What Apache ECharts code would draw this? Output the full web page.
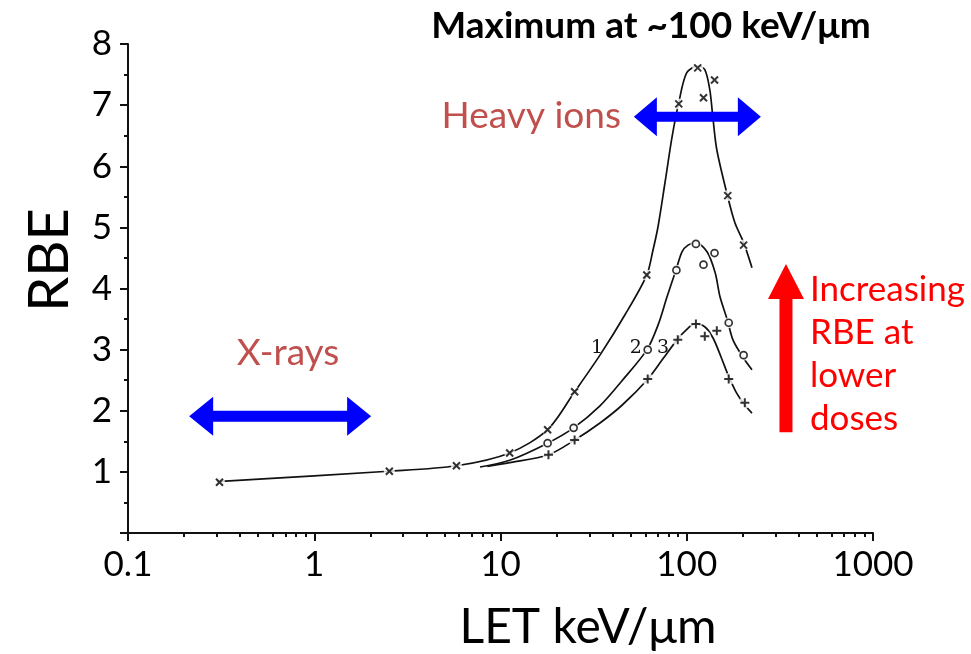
<!DOCTYPE html>
<html>
<head>
<meta charset="utf-8">
<script src="https://cdn.jsdelivr.net/npm/echarts@6/dist/echarts.min.js"></script>
<style>
  html, body { margin: 0; padding: 0; background: #ffffff; }
  #chart { width: 971px; height: 654px; }
</style>
</head>
<body>
<div id="chart"></div>
<script>
// Axis ticks
const xTicks = [0.1, 1, 10, 100, 1000];
const xMinorTicks = [0.2, 0.3, 0.4, 0.5, 0.6, 0.7, 0.8, 0.9,
                     2, 3, 4, 5, 6, 7, 8, 9,
                     20, 30, 40, 50, 60, 70, 80, 90,
                     200, 300, 400, 500, 600, 700, 800, 900];
const yTicks = [1, 2, 3, 4, 5, 6, 7, 8];

// Curve 1 (×): drawn line and measured points  [LET keV/µm, RBE]
const curve1Line = [[0.3, 0.84], [2.5, 1.01], [5.8, 1.10], [11.2, 1.31], [17.9, 1.69], [25, 2.31],
                    [34.2, 2.91], [46.6, 3.57], [61, 4.22], [65.9, 4.63], [70.1, 5.01], [76.4, 5.73],
                    [83.4, 6.48], [90.6, 7.04], [100, 7.53], [114.5, 7.64], [125, 7.58], [133, 7.25],
                    [138, 6.81], [145, 6.27], [166, 5.50], [181.6, 5.07], [202, 4.75], [224, 4.34]];
const curve1Pts = [[0.31, 0.83], [2.53, 1.01], [5.8, 1.10], [11.2, 1.31], [17.9, 1.69], [25, 2.31],
                   [61, 4.22], [90.6, 7.02], [114.5, 7.61], [123, 7.12], [141, 7.41], [166, 5.52], [202, 4.71]];

// Curve 2 (○)
const curve2Line = [[7.76, 1.08], [11.2, 1.19], [17.9, 1.47], [24.7, 1.72], [34.2, 2.08], [44.9, 2.49],
                    [61.2, 3.0], [70.1, 3.40], [78.3, 3.86], [87.5, 4.30], [94.3, 4.60], [101.6, 4.71],
                    [112, 4.75], [128.5, 4.60], [142, 4.26], [151, 3.86], [165, 3.49], [177, 3.16],
                    [200, 2.88], [224, 2.67]];
const curve2Pts = [[17.9, 1.47], [24.7, 1.72], [61.7, 3.0], [88, 4.30], [112, 4.73],
                   [123, 4.39], [141, 4.58], [168, 3.44], [202, 2.91]];

// Curve 3 (+)
const curve3Line = [[8.5, 1.09], [11.2, 1.15], [18.1, 1.28], [25, 1.52], [34.2, 1.80], [44.9, 2.09],
                    [61.9, 2.52], [74.5, 2.85], [88.7, 3.16], [99.1, 3.32], [110.7, 3.42], [125.3, 3.37],
                    [138.4, 3.19], [152.8, 2.88], [166.5, 2.59], [183.7, 2.31], [203, 2.11], [224, 1.96]];
const curve3Pts = [[18.1, 1.28], [25, 1.52], [61.7, 2.52], [89.5, 3.16], [112, 3.42],
                   [125, 3.22], [145, 3.31], [168, 2.52], [205, 2.13]];

// Curve number labels [x, y, text]
const curveLabels = [[33, 3.03, '1'], [53.3, 3.03, '2'], [74.5, 3.03, '3']];

// Annotation arrows in data units
const xrayArrow = { from: 0.213, to: 2.02, y: 1.91 };
const ionArrow = { from: 52, to: 250, y: 6.81 };
const doseArrow = { x: 341, from: 1.65, to: 4.40 };

const FONT = 'Lato, "Open Sans", sans-serif';
const INK = '#111111';

const chart = echarts.init(document.getElementById('chart'), null, { renderer: 'canvas' });

const crossSym = 'path://M0,0L10,10M10,0L0,10';
const plusSym = 'path://M5,0L5,10M0,5L10,5';

function lineSeries(data) {
  return {
    type: 'line', data: data, smooth: 0.3, symbol: 'none', silent: true,
    lineStyle: { color: INK, width: 1.7 }, z: 2
  };
}

// White halo under each marker so the curve breaks around it
function haloSeries(data, size) {
  return {
    type: 'scatter', data: data, symbol: 'circle', symbolSize: size, silent: true, z: 3,
    itemStyle: { color: '#ffffff', borderWidth: 0 }
  };
}

chart.setOption({
  animation: false,
  backgroundColor: '#ffffff',
  grid: { left: 128, right: 98, top: 44, bottom: 121 },
  xAxis: [
    {
      type: 'log', logBase: 10, min: xTicks[0], max: xTicks[xTicks.length - 1],
      axisLine: { show: true, lineStyle: { color: INK, width: 2 } },
      axisTick: { show: true, length: 8, lineStyle: { color: INK, width: 2 } },
      axisLabel: {
        show: true, margin: 14, color: '#000', fontSize: 35, fontFamily: FONT,
        customValues: xTicks,
        formatter: function (v) { return String(v); }
      },
      splitLine: { show: false }
    },
    {
      type: 'log', logBase: 10, min: xTicks[0], max: xTicks[xTicks.length - 1],
      position: 'bottom',
      axisLine: { show: false },
      axisTick: { show: true, length: 4, customValues: xMinorTicks, lineStyle: { color: INK, width: 2 } },
      axisLabel: { show: false },
      splitLine: { show: false }
    }
  ],
  yAxis: {
    type: 'value', min: 0, max: 8, interval: 1,
    axisLine: { show: true, lineStyle: { color: INK, width: 2 } },
    axisTick: { show: true, length: 8, lineStyle: { color: INK, width: 2 } },
    minorTick: { show: true, splitNumber: 2, length: 4, lineStyle: { color: INK, width: 2 } },
    axisLabel: {
      margin: 16, color: '#000', fontSize: 35, fontFamily: FONT, padding: [7, 0, 0, 0],
      formatter: function (v) { return yTicks.indexOf(v) >= 0 ? String(v) : ''; }
    },
    splitLine: { show: false }
  },
  series: [
    lineSeries(curve1Line),
    lineSeries(curve2Line),
    lineSeries(curve3Line),
    haloSeries(curve1Pts, 11),
    haloSeries(curve2Pts, 11),
    haloSeries(curve3Pts, 12),
    {
      type: 'scatter', data: curve1Pts, symbol: crossSym, symbolSize: 7, silent: true, z: 4,
      itemStyle: { color: 'none', borderColor: '#000', borderWidth: 2 }
    },
    {
      type: 'scatter', data: curve2Pts, symbol: 'circle', symbolSize: 7, silent: true, z: 4,
      itemStyle: { color: '#ffffff', borderColor: '#000', borderWidth: 1.7 }
    },
    {
      type: 'scatter', data: curve3Pts, symbol: plusSym, symbolSize: 9, silent: true, z: 4,
      itemStyle: { color: 'none', borderColor: '#000', borderWidth: 2 }
    }
  ]
});

function px(x, y) {
  return chart.convertToPixel({ xAxisIndex: 0, yAxisIndex: 0 }, [x, y]);
}

// Horizontal double-headed arrow polygon
function doubleArrow(x1, x2, y, headLen, headHalf, shaftHalf) {
  return [
    [x1, y], [x1 + headLen, y - headHalf], [x1 + headLen, y - shaftHalf],
    [x2 - headLen, y - shaftHalf], [x2 - headLen, y - headHalf], [x2, y],
    [x2 - headLen, y + headHalf], [x2 - headLen, y + shaftHalf],
    [x1 + headLen, y + shaftHalf], [x1 + headLen, y + headHalf]
  ];
}

// Vertical up arrow polygon
function upArrow(x, yBottom, yTip, headLen, headHalf, shaftHalf) {
  return [
    [x, yTip], [x + headHalf, yTip + headLen], [x + shaftHalf, yTip + headLen],
    [x + shaftHalf, yBottom], [x - shaftHalf, yBottom], [x - shaftHalf, yTip + headLen],
    [x - headHalf, yTip + headLen]
  ];
}

const xa1 = px(xrayArrow.from, xrayArrow.y), xa2 = px(xrayArrow.to, xrayArrow.y);
const ia1 = px(ionArrow.from, ionArrow.y), ia2 = px(ionArrow.to, ionArrow.y);
const da1 = px(doseArrow.x, doseArrow.from), da2 = px(doseArrow.x, doseArrow.to);

const graphics = [
  { type: 'polygon', shape: { points: doubleArrow(xa1[0], xa2[0], xa1[1], 24, 19.5, 5.5) }, style: { fill: '#0000ff' }, z: 10 },
  { type: 'polygon', shape: { points: doubleArrow(ia1[0], ia2[0], ia1[1], 23, 19.5, 5) }, style: { fill: '#0000ff' }, z: 10 },
  { type: 'polygon', shape: { points: upArrow(da1[0], da1[1], da2[1], 35, 18, 6.5) }, style: { fill: '#ff0000' }, z: 10 },
  { type: 'text', x: 651, y: 26, style: { text: 'Maximum at ~100 keV/\u03bcm', fill: '#000', font: 'bold 37px ' + FONT, textAlign: 'center', textVerticalAlign: 'middle' }, z: 10 },
  { type: 'text', x: 621, y: 116, style: { text: 'Heavy ions', fill: '#c0504d', font: '37px ' + FONT, textAlign: 'right', textVerticalAlign: 'middle' }, z: 10 },
  { type: 'text', x: 288, y: 353, style: { text: 'X-rays', fill: '#c0504d', font: '37px ' + FONT, textAlign: 'center', textVerticalAlign: 'middle' }, z: 10 },
  { type: 'text', x: 810, y: 268, style: { text: 'Increasing\nRBE at\nlower\ndoses', fill: '#ff0000', font: '35px ' + FONT, lineHeight: 43, textAlign: 'left', textVerticalAlign: 'top' }, z: 10 },
  { type: 'text', x: 588, y: 628, style: { text: 'LET keV/\u03bcm', fill: '#000', font: '48px ' + FONT, textAlign: 'center', textVerticalAlign: 'middle' }, z: 10 },
  { type: 'text', x: 50, y: 260, rotation: Math.PI / 2, style: { text: 'RBE', fill: '#000', font: '56px ' + FONT, textAlign: 'center', textVerticalAlign: 'middle' }, z: 10 }
];

curveLabels.forEach(function (c) {
  const p = px(c[0], c[1]);
  graphics.push({ type: 'text', x: p[0], y: p[1], style: { text: c[2], fill: INK, font: '19px "DejaVu Serif", serif', textAlign: 'center', textVerticalAlign: 'middle' }, z: 10 });
});

chart.setOption({ graphic: graphics });
</script>
</body>
</html>
